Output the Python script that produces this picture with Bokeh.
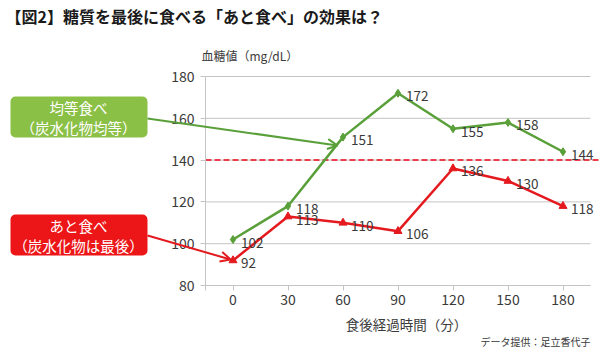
from bokeh.plotting import figure
from bokeh.models import (ColumnDataSource, FixedTicker, Label, Arrow, OpenHead,
                          BoxAnnotation, LinearAxis)
from bokeh.core.properties import value
from bokeh.embed import file_html
from bokeh.resources import INLINE

# ---- data ----
minutes = [0, 30, 60, 90, 120, 150, 180]
kintou = [102, 118, 151, 172, 155, 158, 144]      # 均等食べ（炭水化物均等）
atotabe = [92, 113, 110, 106, 136, 130, 118]      # あと食べ（炭水化物は最後）
threshold = [140]
y_ticks = [80, 100, 120, 140, 160, 180]
x_ticks = [0, 30, 60, 90, 120, 150, 180]

title_text = "【図2】糖質を最後に食べる「あと食べ」の効果は？"
y_title = "血糖値（mg/dL）"
x_title = "食後経過時間（分）"
credit = "データ提供：足立香代子"
green_lines = ["均等食べ", "（炭水化物均等）"]
red_lines = ["あと食べ", "（炭水化物は最後）"]

FONT = "Noto Sans CJK JP"
GREEN = "#5aa03a"
GREEN_BOX = "#8bc046"
RED = "#e41a1f"
RED_BOX = "#ec1618"
DASH_RED = "#e8404a"
GRID = "#c4c4c4"
TXT = "#3a3a3a"

W, H = 600, 351
# plot area of the original chart (pixels) and its data extent
AX_L, AX_R, AX_T, AX_B = 205, 590, 76, 285
X_AX = (-15, 195)
Y_AX = (80, 180)
KX = (AX_R - AX_L) / (X_AX[1] - X_AX[0])
KY = (AX_B - AX_T) / (Y_AX[1] - Y_AX[0])


def dx(px):
    return X_AX[0] + (px - AX_L) / KX


def dy(py):
    return Y_AX[1] - (py - AX_T) / KY


p = figure(width=W, height=H, x_range=(dx(0), dx(W)), y_range=(dy(H), dy(0)),
           output_backend="svg", toolbar_location=None,
           min_border=0, min_border_left=0, min_border_right=0,
           min_border_top=0, min_border_bottom=0,
           x_axis_type=None, y_axis_type=None)
p.outline_line_color = None
p.background_fill_color = "white"
p.border_fill_color = "white"

xaxis = LinearAxis(fixed_location=Y_AX[0], bounds=X_AX,
                   ticker=FixedTicker(ticks=x_ticks))
yaxis = LinearAxis(fixed_location=X_AX[0], bounds=(dy(AX_B + 5), Y_AX[1]),
                   ticker=FixedTicker(ticks=y_ticks))
for ax in (xaxis, yaxis):
    ax.axis_line_color = GRID
    ax.axis_line_width = 1
    ax.major_tick_line_color = GRID
    ax.major_tick_out = 5
    ax.major_tick_in = 0
    ax.minor_tick_line_color = None
    ax.major_label_text_font = FONT
    ax.major_label_text_font_size = "14px"
    ax.major_label_text_color = TXT
yaxis.major_label_standoff = 6
xaxis.major_label_standoff = 3
p.add_layout(xaxis, "below")
p.add_layout(yaxis, "left")

p.ygrid.visible = False
p.xgrid.visible = False
# horizontal gridlines at the y ticks, spanning the plot area
p.segment(x0=[X_AX[0]] * len(y_ticks), x1=[X_AX[1]] * len(y_ticks),
          y0=y_ticks, y1=y_ticks, line_color=GRID, line_width=1)

# threshold line (runs to the right edge)
p.segment(x0=[X_AX[0]], x1=[dx(W)], y0=threshold, y1=threshold,
          line_color=DASH_RED, line_width=2, line_dash="6 3")

src = ColumnDataSource(dict(x=minutes, g=kintou, r=atotabe,
                            gl=[str(v) for v in kintou], rl=[str(v) for v in atotabe]))

p.line("x", "g", source=src, line_color=GREEN, line_width=2.5)
p.scatter("x", "g", source=src, marker="diamond", size=8, fill_color=GREEN, line_color=GREEN)
p.line("x", "r", source=src, line_color=RED, line_width=2.5)
p.scatter("x", "r", source=src, marker="triangle", size=8, fill_color=RED, line_color=RED)

p.text("x", "g", text="gl", source=src, x_offset=8, y_offset=3,
       text_font=value(FONT), text_font_size="13.5px", text_color=TXT,
       text_baseline="middle", text_align="left")
p.text("x", "r", text="rl", source=src, x_offset=8, y_offset=3,
       text_font=value(FONT), text_font_size="13.5px", text_color=TXT,
       text_baseline="middle", text_align="left")

# callout boxes
p.add_layout(BoxAnnotation(left=dx(10), right=dx(147), top=dy(96), bottom=dy(137),
                           fill_color=GREEN_BOX, fill_alpha=1, line_color=None,
                           border_radius=5))
p.add_layout(BoxAnnotation(left=dx(10), right=dx(147), top=dy(214), bottom=dy(255),
                           fill_color=RED_BOX, fill_alpha=1, line_color=None,
                           border_radius=5))
for i, t in enumerate(green_lines):
    p.add_layout(Label(x=dx(78), y=dy(107 + 20 * i), text=t, text_align="center",
                       text_baseline="middle", text_font=FONT, text_font_size="14.5px",
                       text_color="white"))
for i, t in enumerate(red_lines):
    p.add_layout(Label(x=dx(78), y=dy(225 + 20 * i), text=t, text_align="center",
                       text_baseline="middle", text_font=FONT, text_font_size="14.5px",
                       text_color="white"))

# arrows
p.add_layout(Arrow(x_start=dx(147), y_start=dy(118), x_end=dx(337), y_end=dy(145),
                   line_color=GREEN, line_width=2,
                   end=OpenHead(size=10, line_color=GREEN, line_width=2)))
p.add_layout(Arrow(x_start=dx(147), y_start=dy(235), x_end=dx(230), y_end=dy(259),
                   line_color=RED, line_width=2,
                   end=OpenHead(size=10, line_color=RED, line_width=2)))

# texts
p.add_layout(Label(x=dx(5), y=dy(15), text=title_text, text_align="left",
                   text_baseline="middle", text_font=FONT, text_font_size="16px",
                   text_font_style="bold", text_color="#1a1a1a"))
p.add_layout(Label(x=dx(201), y=dy(55), text=y_title, text_align="left",
                   text_baseline="middle", text_font=FONT, text_font_size="12px",
                   text_color=TXT))
p.add_layout(Label(x=dx(406), y=dy(323), text=x_title, text_align="center",
                   text_baseline="middle", text_font=FONT, text_font_size="13.5px",
                   text_color=TXT))
p.add_layout(Label(x=dx(590), y=dy(341), text=credit, text_align="right",
                   text_baseline="middle", text_font=FONT, text_font_size="10px",
                   text_color=TXT))

open("out.html", "w").write(file_html(p, INLINE))
